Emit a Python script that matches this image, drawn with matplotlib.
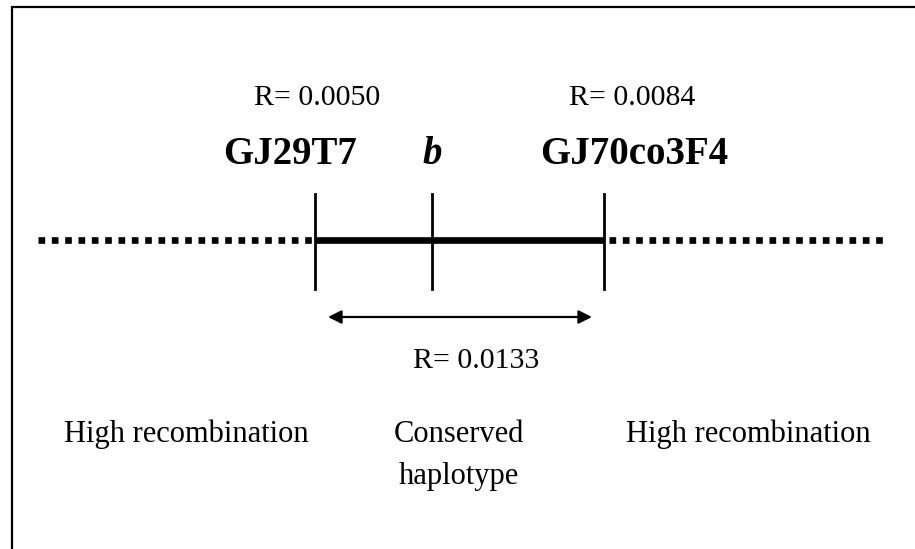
import matplotlib.pyplot as plt

# marker names and recombination values
markers = ["GJ29T7", "b", "GJ70co3F4"]
marker_x = [315, 432, 604]
flank_r = ["R= 0.0050", "R= 0.0084"]
span_r = "R= 0.0133"
regions = ["High recombination", "Conserved", "haplotype", "High recombination"]

plt.rcParams['font.family'] = ['Liberation Serif', 'DejaVu Serif']

fig = plt.figure(figsize=(9.15, 5.49), dpi=100)
ax = fig.add_axes([0, 0, 1, 1])
ax.set_xlim(0, 915)
ax.set_ylim(549, 0)
ax.axis("off")

# frame (top and left edges only visible)
ax.plot([12, 12, 916], [550, 7, 7], color="black", lw=1.6, solid_joinstyle="miter")

# dotted flanks
ax.plot([38, marker_x[0]], [240, 240], color="black", lw=4.8,
        linestyle=(0, (1, 1)), dash_capstyle="butt")
ax.plot([marker_x[2] + 5, 888], [240, 240], color="black", lw=4.8,
        linestyle=(0, (1, 1)), dash_capstyle="butt")
# conserved segment
ax.plot([marker_x[0], marker_x[2]], [240, 240], color="black", lw=4.8,
        solid_capstyle="butt")
# marker ticks
for x in marker_x:
    ax.plot([x, x], [194, 289], color="black", lw=2)

# arrow
ax.annotate("", xy=(328, 317), xytext=(592, 317),
            arrowprops=dict(arrowstyle="<|-|>", color="black", lw=1.6,
                            mutation_scale=20, shrinkA=0, shrinkB=0))

# text labels
ax.text(317, 105, flank_r[0], ha="center", va="baseline", fontsize=21.5)
ax.text(632, 105, flank_r[1], ha="center", va="baseline", fontsize=21.5)
ax.text(290, 164, markers[0], ha="center", va="baseline", fontsize=28, fontweight="bold")
ax.text(432, 164, markers[1], ha="center", va="baseline", fontsize=28,
        fontweight="bold", fontstyle="italic")
ax.text(634, 164, markers[2], ha="center", va="baseline", fontsize=28, fontweight="bold")
ax.text(476, 368, span_r, ha="center", va="baseline", fontsize=21.5)

ax.text(186, 442, regions[0], ha="center", va="baseline", fontsize=22)
ax.text(459, 442, regions[1], ha="center", va="baseline", fontsize=22)
ax.text(459, 484, regions[2], ha="center", va="baseline", fontsize=22)
ax.text(748, 442, regions[3], ha="center", va="baseline", fontsize=22)

fig.savefig("out.png", dpi=100)
